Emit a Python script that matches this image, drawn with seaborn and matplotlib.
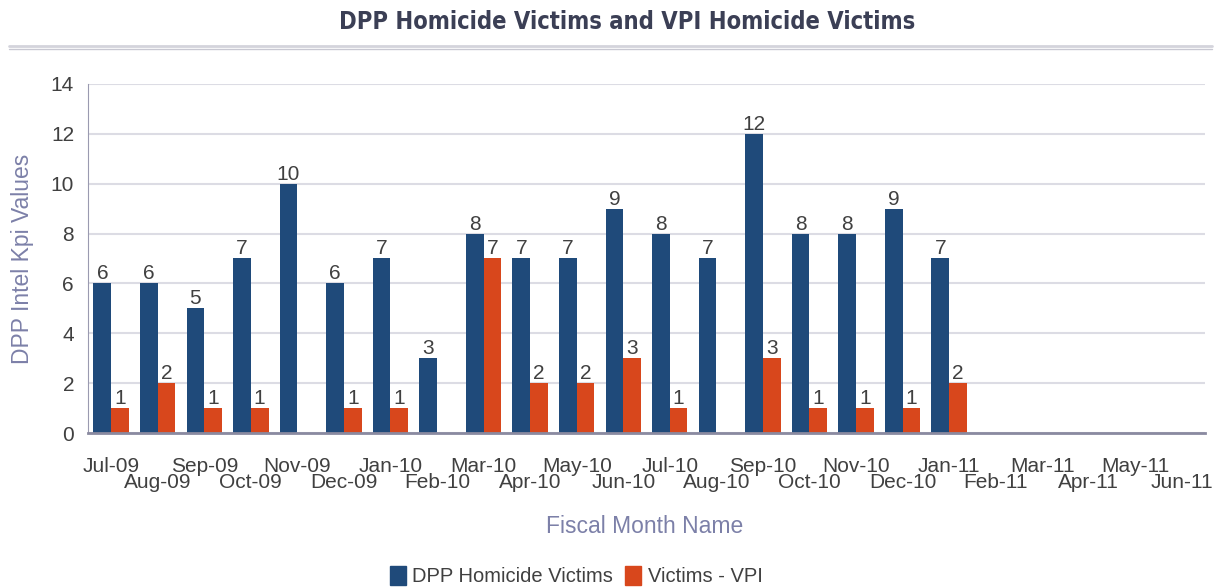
import pandas as pd
import matplotlib
matplotlib.use("Agg")
import matplotlib.pyplot as plt
import seaborn as sns
from matplotlib.lines import Line2D
from matplotlib import font_manager

months = ["Jul-09", "Aug-09", "Sep-09", "Oct-09", "Nov-09", "Dec-09",
          "Jan-10", "Feb-10", "Mar-10", "Apr-10", "May-10", "Jun-10",
          "Jul-10", "Aug-10", "Sep-10", "Oct-10", "Nov-10", "Dec-10",
          "Jan-11", "Feb-11", "Mar-11", "Apr-11", "May-11", "Jun-11"]
dpp = [6, 6, 5, 7, 10, 6, 7, 3, 8, 7, 7, 9, 8, 7, 12, 8, 8, 9, 7,
       None, None, None, None, None]
vpi = [1, 2, 1, 1, None, 1, 1, None, 7, 2, 2, 3, 1, None, 3, 1, 1, 1, 2,
       None, None, None, None, None]
series = ["DPP Homicide Victims", "Victims - VPI"]

rows = []
for m, a, b in zip(months, dpp, vpi):
    rows.append((m, series[0], a))
    rows.append((m, series[1], b))
df = pd.DataFrame(rows, columns=["month", "series", "value"]).dropna()

sns.set_style("white")
plt.rcParams['font.family'] = ['Liberation Sans', 'DejaVu Sans']

fig = plt.figure(figsize=(12.21, 5.88), dpi=100)
ax = fig.add_axes([0.072, 0.2636, 0.915, 0.5936])

ax = sns.barplot(data=df, x="month", y="value", hue="series", order=months,
                 hue_order=series, palette=["#1f4a7a", "#d8471c"],
                 width=0.76, saturation=1, edgecolor="none", ax=ax,
                 legend=False)

for c in ax.containers:
    ax.bar_label(c, fmt="%g", padding=0, fontsize=15, color="#404040")

ax.set_ylim(0, 14)
ax.set_xlim(-0.5, 23.5)
ax.set_yticks(range(0, 15, 2))
ax.yaxis.grid(True, color="#dcdce4", linewidth=1.5)
ax.set_axisbelow(True)
for s in ["top", "right"]:
    ax.spines[s].set_visible(False)
ax.spines["left"].set_color("#9a9ab0")
ax.spines["bottom"].set_color("#8a8aa0")
ax.spines["bottom"].set_linewidth(2)
ax.tick_params(axis="y", labelsize=15, labelcolor="#404040", length=4,
               color="#9a9ab0", pad=6)
ax.tick_params(axis="x", labelsize=15, labelcolor="#404040", length=0, pad=17)
for i, t in enumerate(ax.xaxis.get_major_ticks()):
    if i % 2:
        t.set_pad(29)

ax.set_xlabel("")
ax.set_ylabel("DPP Intel Kpi Values", fontsize=16.5, color="#7c80a8", labelpad=12)
fig.text(0.528, 0.104, "Fiscal Month Name", ha="center", va="center",
         fontsize=16.5, color="#7c80a8")

title_font = font_manager.FontProperties(family="DejaVu Sans", weight="bold",
                                         stretch="condensed", size=17)
fig.text(0.514, 0.962, "DPP Homicide Victims and VPI Homicide Victims",
         ha="center", va="center", fontproperties=title_font, color="#3b3f55")
fig.add_artist(Line2D([0.007, 0.993], [0.922, 0.922], color="#d4d4dc", lw=2))
fig.add_artist(Line2D([0.007, 0.993], [0.916, 0.916], color="#c8c8d2", lw=1))

handles = [plt.Rectangle((0, 0), 1, 1, color="#1f4a7a"),
           plt.Rectangle((0, 0), 1, 1, color="#d8471c")]
fig.legend(handles, series, loc="center", bbox_to_anchor=(0.472, 0.02),
           ncol=2, frameon=False, fontsize=14.5, handlelength=0.8,
           handleheight=1.1, handletextpad=0.3, columnspacing=0.6,
           labelcolor="#404040")

fig.savefig("out.png", dpi=100)
